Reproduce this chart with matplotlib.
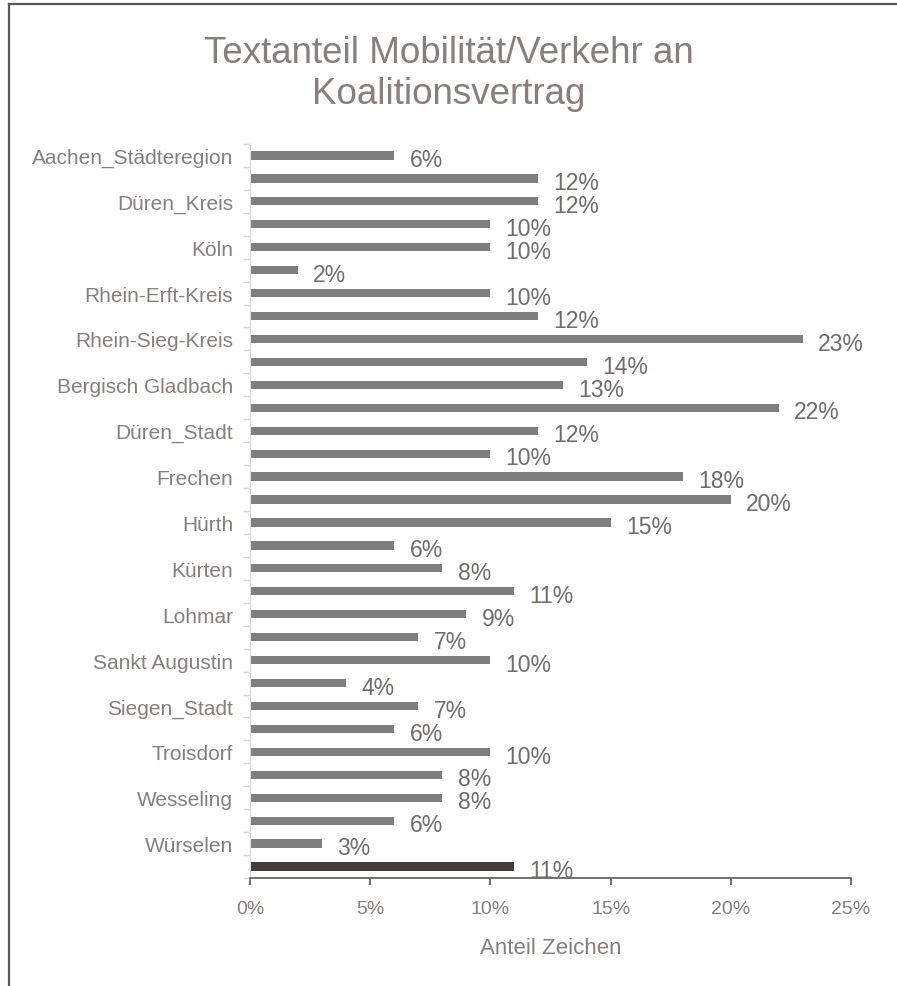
import numpy as np
import matplotlib
matplotlib.use("Agg")
import matplotlib.pyplot as plt
from matplotlib.lines import Line2D

# Kreise/Städte (nur jede zweite Zeile beschriftet)
labels = ["Aachen_Städteregion", "Düren_Kreis", "Köln", "Rhein-Erft-Kreis",
          "Rhein-Sieg-Kreis", "Bergisch Gladbach", "Düren_Stadt", "Frechen",
          "Hürth", "Kürten", "Lohmar", "Sankt Augustin", "Siegen_Stadt",
          "Troisdorf", "Wesseling", "Würselen"]
# Anteil in Prozent, letzte Zeile = Durchschnitt
values = [6, 12, 12, 10, 10, 2, 10, 12, 23, 14, 13, 22, 12, 10, 18, 20,
          15, 6, 8, 11, 9, 7, 10, 4, 7, 6, 10, 8, 8, 6, 3, 11]
xticks = [0, 5, 10, 15, 20, 25]

plt.rcParams['font.family'] = ['Liberation Sans', 'DejaVu Sans']

txt_col = '#8a7f78'
val_col = '#746b65'
bar_col = '#7f7f7f'
avg_col = '#433d39'

fig = plt.figure(figsize=(8.97, 9.87), dpi=100)
ax = fig.add_axes([0.2787, 0.1094, 0.6700, 0.7437])

n = len(values)
pos = np.arange(n)
colors = [bar_col] * (n - 1) + [avg_col]
ax.barh(pos, values, height=0.36, color=colors)

for p, v in zip(pos, values):
    ax.annotate(f"{v}%", xy=(v, p), xytext=(11, -3), textcoords='offset points',
                ha='left', va='center', fontsize=16.5, color=val_col)

ax.set_xlim(0, 25)
ax.set_ylim(n - 0.5, -0.5)
ax.set_xticks(xticks)
ax.set_xticklabels([f"{t}%" for t in xticks], fontsize=14, color=txt_col)
ax.set_yticks(pos[::2])
ax.set_yticklabels(labels, fontsize=15, color=txt_col)
ax.set_yticks(np.arange(n + 1) - 0.5, minor=True)
ax.tick_params(axis='y', which='major', length=0, pad=12)
ax.tick_params(axis='y', which='minor', length=5, color='#d9d9d9', width=1)
ax.tick_params(axis='x', length=5, color='#595959', width=1.2, pad=11)

for s in ['top', 'right']:
    ax.spines[s].set_visible(False)
ax.spines['left'].set_color('#d9d9d9')
ax.spines['bottom'].set_color('#595959')
ax.spines['bottom'].set_linewidth(1.2)

ax.set_xlabel("Anteil Zeichen", fontsize=16, color=txt_col, labelpad=14)

fig.text(0.5, 0.925, "Textanteil Mobilität/Verkehr an\nKoalitionsvertrag",
         ha='center', va='center', fontsize=26.5, color=txt_col, linespacing=1.25)

# Rahmen links und oben
fig.add_artist(Line2D([0.0100, 0.0100], [0.0, 0.9950], color='#595959', lw=1.6))
fig.add_artist(Line2D([0.0100, 1.0], [0.9950, 0.9950], color='#595959', lw=1.6))

fig.savefig("out.png", dpi=100)
